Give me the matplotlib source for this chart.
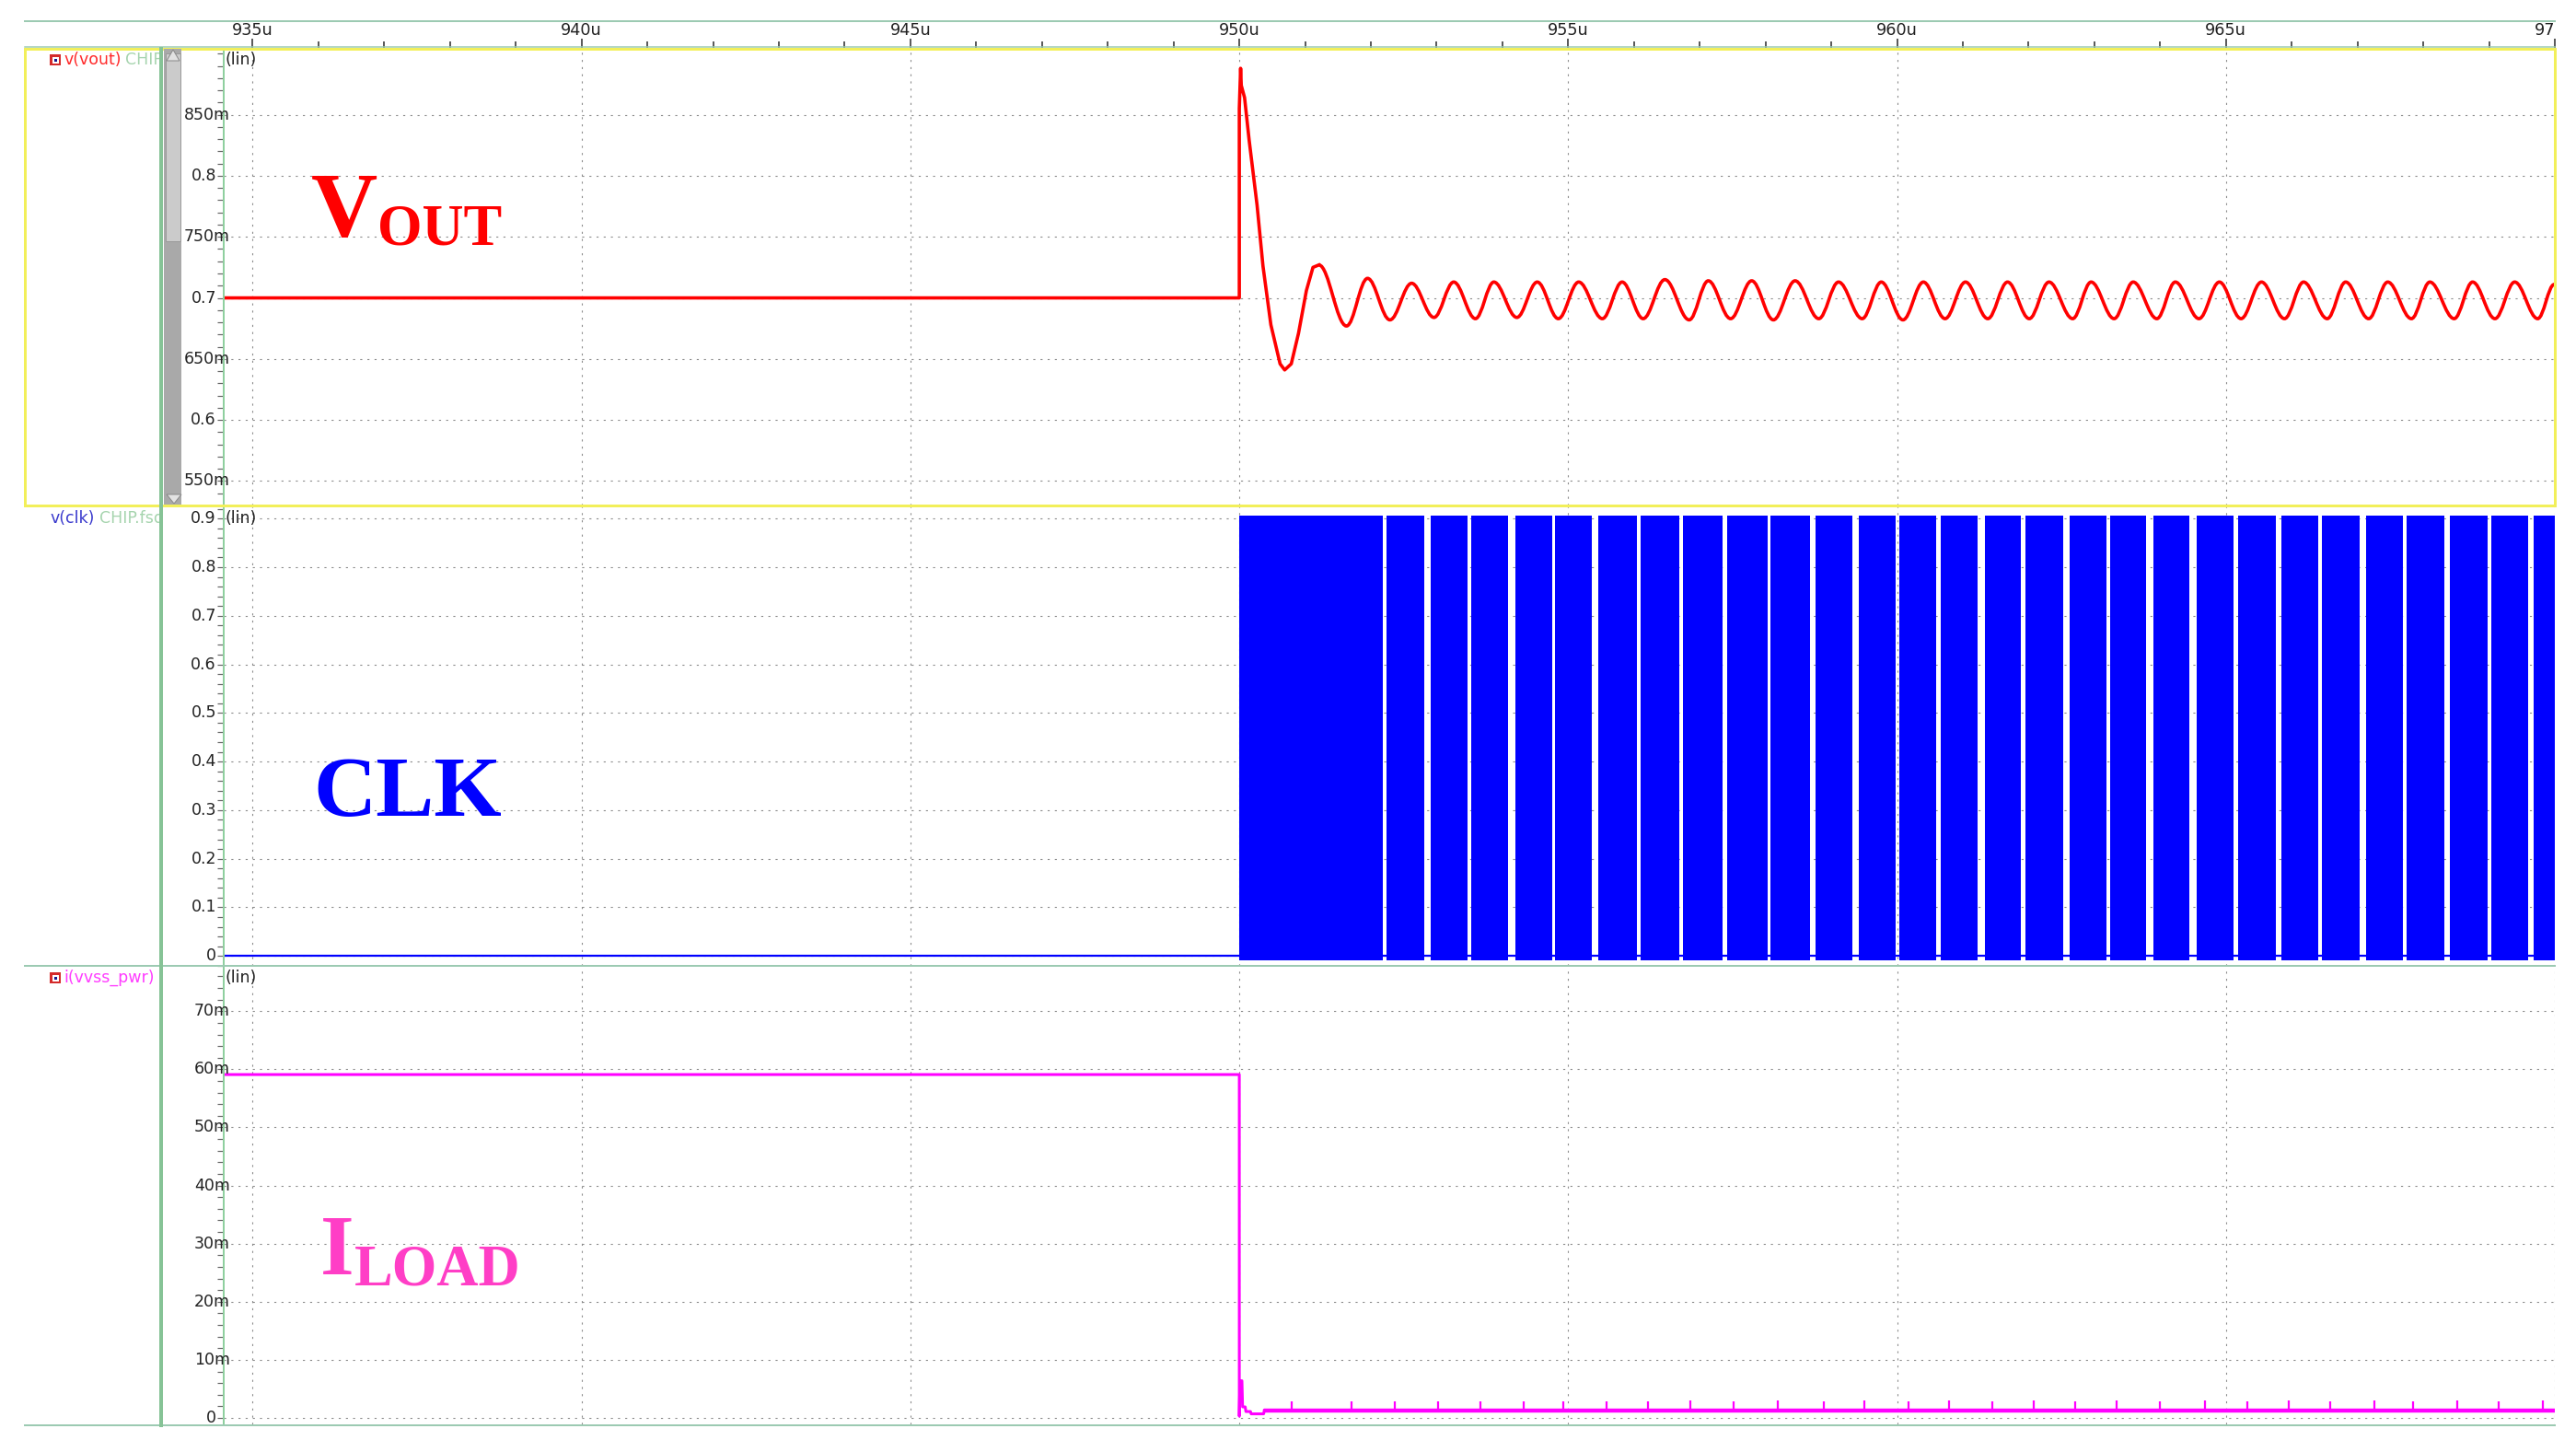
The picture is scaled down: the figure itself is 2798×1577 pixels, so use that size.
import matplotlib.pyplot as plt
import matplotlib.transforms as mtransforms
from matplotlib.patches import Rectangle, Polygon, PathPatch
from matplotlib.path import Path
from matplotlib.ticker import AutoMinorLocator, MultipleLocator

# ---- data (time in us) ----
t_ticks = [935, 940, 945, 950, 955, 960, 965, 970]
t_labels = ["935u", "940u", "945u", "950u", "955u", "960u", "965u", "970u"]
t_min, t_max = 934.56, 969.99

vout_ticks = [0.55, 0.60, 0.65, 0.70, 0.75, 0.80, 0.85]
vout_labels = ["550m", "0.6", "650m", "0.7", "750m", "0.8", "850m"]
clk_ticks = [0, 0.1, 0.2, 0.3, 0.4, 0.5, 0.6, 0.7, 0.8, 0.9]
clk_labels = ["0", "0.1", "0.2", "0.3", "0.4", "0.5", "0.6", "0.7", "0.8", "0.9"]
iload_ticks = [0, 10, 20, 30, 40, 50, 60, 70]          # mA
iload_labels = ["0", "10m", "20m", "30m", "40m", "50m", "60m", "70m"]

# vout: step + first undershoot
vout_t = [934.5, 950.0, 950.0, 950.02, 950.03, 950.08, 950.15, 950.27, 950.36,
          950.48, 950.62, 950.69, 950.79, 950.90, 951.02, 951.12, 951.21]
vout_v = [0.700, 0.700, 0.855, 0.888, 0.874, 0.864, 0.829, 0.776, 0.726,
          0.678, 0.646, 0.641, 0.646, 0.671, 0.706, 0.725, 0.727]
# vout ringing: peaks / troughs
ring_t = [951.21, 951.63, 951.95, 952.29, 952.62, 952.96, 953.26, 953.59, 953.87,
          954.22, 954.53, 954.85, 955.16, 955.52, 955.82, 956.14, 956.47, 956.84,
          957.13, 957.47, 957.79, 958.12, 958.45, 958.81, 959.11, 959.47, 959.76,
          960.09, 960.40, 960.73, 961.04, 961.38, 961.68, 962.01, 962.31, 962.67,
          962.95, 963.30, 963.59, 963.95, 964.23, 964.59, 964.90, 965.23, 965.54,
          965.89, 966.18, 966.54, 966.82, 967.17, 967.46, 967.82, 968.10, 968.47,
          968.75, 969.09, 969.39, 969.74, 969.99]
ring_v = [0.727, 0.677, 0.716, 0.682, 0.712, 0.684, 0.713, 0.683, 0.713,
          0.684, 0.713, 0.683, 0.713, 0.683, 0.713, 0.683, 0.715, 0.682,
          0.714, 0.683, 0.714, 0.682, 0.714, 0.683, 0.713, 0.683, 0.713,
          0.682, 0.713, 0.683, 0.713, 0.683, 0.713, 0.683, 0.713, 0.683,
          0.713, 0.683, 0.713, 0.683, 0.713, 0.683, 0.713, 0.683, 0.713,
          0.683, 0.713, 0.683, 0.713, 0.683, 0.713, 0.683, 0.713, 0.683,
          0.713, 0.683, 0.713, 0.683, 0.711]

# clk: fast clock from 950u, with skipped pulses (gaps)
clk_on, clk_off = 950.0, 970.0
clk_lo, clk_hi = 0.0, 0.9
gap_t = [952.21, 952.86, 953.50, 954.14, 954.78, 955.41, 956.07, 956.72, 957.38,
         958.05, 958.72, 959.37, 960.01, 960.63, 961.28, 961.92, 962.57, 963.21,
         963.84, 964.50, 965.15, 965.80, 966.43, 967.08, 967.72, 968.36, 969.01,
         969.64]
gap_w = [0.06, 0.11, 0.05, 0.11, 0.05, 0.09, 0.05, 0.05, 0.06, 0.04, 0.08, 0.09,
         0.05, 0.06, 0.10, 0.07, 0.10, 0.06, 0.12, 0.10, 0.06, 0.09, 0.06, 0.09,
         0.06, 0.08, 0.06, 0.09]

# iload (mA)
iload_t = [934.5, 950.0, 950.0, 950.01, 950.04, 950.05, 950.09, 950.10, 950.17,
           950.18, 950.37, 950.38]
iload_v = [59.1, 59.1, 0.3, 6.4, 6.4, 1.9, 1.9, 1.1, 1.1, 0.7, 0.7, 1.3]
iload_floor = 1.3
spike_t = [950.80, 951.70, 952.37, 953.02, 953.66, 954.32, 954.93, 955.58, 956.21,
           956.86, 957.52, 958.19, 958.88, 959.50, 960.17, 960.79, 961.45, 962.08,
           962.71, 963.34, 964.00, 964.68, 965.33, 965.96, 966.59, 967.25, 967.85,
           968.51, 969.15, 969.82]
spike_v = [2.8, 2.8, 2.8, 2.9, 2.9, 2.8, 2.8, 2.8, 2.9, 3.0, 2.9, 3.0, 2.9, 3.0,
           2.9, 3.0, 2.8, 3.0, 2.9, 3.0, 2.9, 3.0, 2.8, 3.0, 2.9, 3.0, 2.8, 3.0,
           2.9, 3.0]

W, H = 2798, 1577
PX = 72 / 100   # points per pixel
GRID = '#8c8c8c'
GREEN = '#9ccab2'

fig = plt.figure(figsize=(W / 100, H / 100), dpi=100)


def box(x0, y0, x1, y1):
    return [x0 / W, 1 - y1 / H, (x1 - x0) / W, (y1 - y0) / H]


def panel(rect, ylim, ticks, labels):
    ax = fig.add_axes(box(*rect))
    ax.set_xlim(t_min, t_max)
    ax.set_ylim(*ylim)
    ax.set_xticks(t_ticks)
    ax.set_yticks(ticks, [''] * len(ticks))
    ax.yaxis.set_minor_locator(AutoMinorLocator(5))
    ax.tick_params(axis='x', length=0, labelbottom=False)
    ax.tick_params(axis='y', which='both', direction='out', length=7 * PX,
                   width=1.2 * PX, color='#666666')
    for s in ['top', 'right', 'bottom']:
        ax.spines[s].set_visible(False)
    ax.spines['left'].set_color('#8fcf9f')
    ax.spines['left'].set_linewidth(2 * PX)
    ax.grid(True, which='major', color=GRID, linewidth=0.8, linestyle=(0, (2, 5)))
    ax.set_axisbelow(True)
    # value labels: digits end at ~234px, the "m" suffix hangs over the axis
    tr = mtransforms.blended_transform_factory(fig.transFigure, ax.transData)
    for v, s in zip(ticks, labels):
        xr = 250 if s.endswith('m') else 235
        ax.text(xr / W, v, s, transform=tr, ha='right', va='center',
                fontsize=12.5, color='#222222', clip_on=False)
    return ax


ax1 = panel((243, 53, 2775, 549), (0.530, 0.904), vout_ticks, vout_labels)
ax2 = panel((243, 550, 2775, 1049), (-0.0203, 0.925), clk_ticks, clk_labels)
ax3 = panel((243, 1050, 2775, 1547), (-1.11, 77.65), iload_ticks, iload_labels)

# Vout
ax1.plot(vout_t, vout_v, color='#ff0000', lw=2.6, solid_joinstyle='round')
verts = [(ring_t[0], ring_v[0])]
codes = [Path.MOVETO]
for i in range(1, len(ring_t)):
    dt = ring_t[i] - ring_t[i - 1]
    verts += [(ring_t[i - 1] + 0.3634 * dt, ring_v[i - 1]),
              (ring_t[i] - 0.3634 * dt, ring_v[i]),
              (ring_t[i], ring_v[i])]
    codes += [Path.CURVE4] * 3
ax1.add_patch(PathPatch(Path(verts, codes), fill=False, edgecolor='#ff0000', lw=2.6))

# CLK
ax2.plot([t_min - 1, t_max + 1], [clk_lo, clk_lo], color='#0000ff', lw=1.6)
edges = [clk_on]
for g, w in zip(gap_t, gap_w):
    edges += [g - w / 2, g + w / 2]
edges.append(clk_off)
spans = [(edges[i], edges[i + 1] - edges[i]) for i in range(0, len(edges), 2)]
ax2.broken_barh(spans, (clk_lo - 0.008, clk_hi - clk_lo + 0.014),
                facecolor='#0000ff', edgecolor='none')

# Iload
ax3.plot(iload_t, iload_v, color='#ff00ff', lw=2.2)
ax3.hlines(iload_floor, iload_t[-1], t_max + 1, color='#ff00ff', lw=3.2)
ax3.vlines(spike_t, iload_floor, spike_v, color='#ff00ff', lw=1.6)

# top time axis
axt = fig.add_axes(box(243, 23, 2775, 52))
axt.set_xlim(t_min, t_max)
axt.set_ylim(0, 1)
axt.patch.set_visible(False)
for s in axt.spines.values():
    s.set_visible(False)
axt.set_yticks([])
axt.set_xticks(t_ticks)
axt.xaxis.set_minor_locator(MultipleLocator(1))
axt.tick_params(axis='x', which='major', direction='in', length=10 * PX,
                width=1.6 * PX, color='#333333', labelbottom=False)
axt.tick_params(axis='x', which='minor', direction='in', length=7 * PX,
                width=1.6 * PX, color='#333333')
for t, lab in zip(t_ticks, t_labels):
    axt.text(t, 0.64, lab, ha='center', va='center', fontsize=12.7,
             color='#222222', clip_on=True)

# signal name column
lab = fig.add_axes(box(27, 53, 173, 1548))
lab.set_xlim(27, 173)
lab.set_ylim(1548, 53)
lab.axis('off')
for yc in (65, 1062):
    lab.add_patch(Rectangle((54, yc - 6), 12, 12, fc='#d42a2a', ec='none'))
    lab.add_patch(Rectangle((56.5, yc - 3.5), 7, 7, fc='white', ec='none'))
    lab.add_patch(Rectangle((58.5, yc - 1.5), 3, 3, fc='#1a1a8c', ec='none'))
lab.text(69, 65, "v(vout)", color='#ff2a2a', fontsize=12.5, va='center', clip_on=True)
lab.text(136, 65, "CHIP.fsdb", color='#a6d4ae', fontsize=12.5, va='center', clip_on=True)
lab.text(54, 563, "v(clk)", color='#3a3acd', fontsize=12.5, va='center', clip_on=True)
lab.text(108, 563, "CHIP.fsdb", color='#a6d4ae', fontsize=12.5, va='center', clip_on=True)
lab.text(69, 1062, "i(vvss_pwr)", color='#ff3cff', fontsize=12.5, va='center', clip_on=True)

# frame, separators, scrollbar, big labels
ovl = fig.add_axes([0, 0, 1, 1], zorder=10)
ovl.set_xlim(0, W)
ovl.set_ylim(H, 0)
ovl.axis('off')
ovl.plot([27, 2775], [23, 23], color=GREEN, lw=2 * PX)
ovl.plot([27, 2775], [51, 51], color=GREEN, lw=1.5 * PX)
ovl.plot([27, 2775], [1049, 1049], color=GREEN, lw=2 * PX)
ovl.plot([27, 2775], [1547.5, 1547.5], color=GREEN, lw=2 * PX)
ovl.add_patch(Rectangle((27, 53), 2748, 496, fill=False, ec='#f2ef5a', lw=3 * PX))
ovl.plot([174.5, 174.5], [53, 1548], color='#86c396', lw=4 * PX)
ovl.add_patch(Rectangle((178, 53), 19, 495, fc='#a9a9a9', ec='none'))
ovl.add_patch(Rectangle((179.5, 58), 16, 204, fc='#cbcbcb', ec='#9a9a9a', lw=1 * PX))
ovl.add_patch(Polygon([(181, 66), (195, 66), (188, 54)], closed=True,
                      fc='#e2e2e2', ec='#8a8a8a', lw=1 * PX))
ovl.add_patch(Polygon([(181, 537), (197, 537), (189, 547)], closed=True,
                      fc='#e2e2e2', ec='#8a8a8a', lw=1 * PX))

for y in (65, 563, 1062):
    ovl.text(245, y, "(lin)", fontsize=12.5, color='#222222', va='center')

serif = dict(family='Liberation Serif', weight='bold', va='baseline')
ovl.text(338, 256, "V", fontsize=72, color='#ff0000', **serif)
ovl.text(410, 266, "OUT", fontsize=45, color='#ff0000', **serif)
ovl.text(340, 886, "CLK", fontsize=68, color='#0000ff', **serif)
ovl.text(348, 1384, "I", fontsize=68, color='#ff3ec6', **serif)
ovl.text(385, 1396, "LOAD", fontsize=45, color='#ff3ec6', **serif)

fig.savefig("out.png", dpi=100, facecolor='white')
